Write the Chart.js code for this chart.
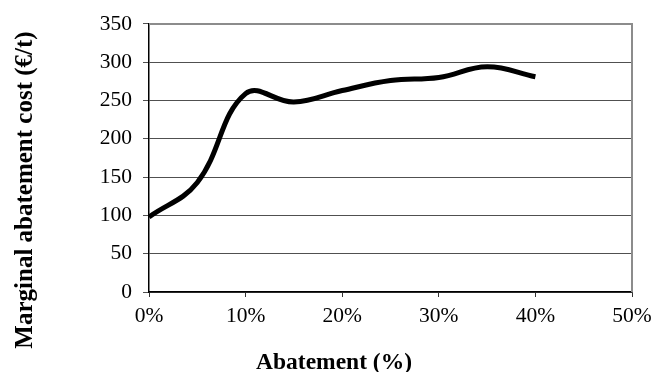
<!DOCTYPE html>
<html>
<head>
<meta charset="utf-8">
<script src="https://cdn.jsdelivr.net/npm/chart.js@4"></script>
<style>
  html, body { margin: 0; padding: 0; background: #ffffff; }
  #wrap { width: 662px; height: 372px; position: relative; }
</style>
</head>
<body>
<div id="wrap"><canvas id="c" width="662" height="372"></canvas></div>
<script>
// ---- data ----
const abatementPct = [0, 5, 10, 15, 20, 25, 30, 35, 40];
const marginalCost = [98, 143, 259, 248, 263, 276, 280, 294, 281];
const xTicks = [0, 10, 20, 30, 40, 50];
const yTicks = [0, 50, 100, 150, 200, 250, 300, 350];
const xTitle = 'Abatement (%)';
const yTitle = 'Marginal abatement cost (€/t)';

const points = abatementPct.map((x, i) => ({ x: x, y: marginalCost[i] }));

const titlesAndBorder = {
  id: 'titlesAndBorder',
  beforeDatasetsDraw(chart) {
    const { ctx, chartArea: a } = chart;
    ctx.save();
    ctx.strokeStyle = '#8c8c8c';
    ctx.lineWidth = 2;
    ctx.beginPath();
    ctx.moveTo(a.left, a.top);
    ctx.lineTo(a.right, a.top);
    ctx.lineTo(a.right, a.bottom);
    ctx.stroke();
    ctx.restore();
  },
  afterDraw(chart) {
    const { ctx } = chart;
    ctx.save();
    ctx.fillStyle = '#000';
    ctx.font = 'bold 23.5px "Liberation Serif", "Times New Roman", serif';
    ctx.textAlign = 'center';
    ctx.textBaseline = 'alphabetic';
    ctx.fillText(xTitle, 334, 369);
    ctx.translate(31.5, 190);
    ctx.rotate(-Math.PI / 2);
    ctx.font = 'bold 25px "Liberation Serif", "Times New Roman", serif';
    ctx.fillText(yTitle, 0, 0);
    ctx.restore();
  }
};

new Chart(document.getElementById('c'), {
  type: 'line',
  data: {
    datasets: [{
      data: points,
      borderColor: '#000000',
      borderWidth: 5,
      tension: 0.4,
      pointRadius: 0,
      fill: false
    }]
  },
  options: {
    responsive: false,
    animation: false,
    devicePixelRatio: 1,
    layout: { padding: { left: 0, top: 23, right: 30, bottom: 0 } },
    plugins: { legend: { display: false }, tooltip: { enabled: false } },
    scales: {
      x: {
        type: 'linear',
        min: 0, max: 50,
        afterBuildTicks(s) { s.ticks = xTicks.map(v => ({ value: v })); },
        afterFit(s) { s.height = 80; },
        grid: { drawOnChartArea: false, drawTicks: true, tickLength: 5, color: '#333' },
        border: { color: '#000', width: 1.5 },
        ticks: {
          color: '#000',
          padding: 6,
          maxRotation: 0,
          font: { family: '"Liberation Serif", "Times New Roman", serif', size: 21.5 },
          callback: v => v + '%'
        }
      },
      y: {
        min: 0, max: 350,
        afterBuildTicks(s) { s.ticks = yTicks.map(v => ({ value: v })); },
        afterFit(s) { s.width = 149; },
        grid: { color: '#505050', lineWidth: 1, drawTicks: true, tickLength: 6 },
        border: { color: '#000', width: 1.5 },
        ticks: {
          color: '#000',
          padding: 11,
          font: { family: '"Liberation Serif", "Times New Roman", serif', size: 21.5 }
        }
      }
    }
  },
  plugins: [titlesAndBorder]
});
</script>
</body>
</html>
